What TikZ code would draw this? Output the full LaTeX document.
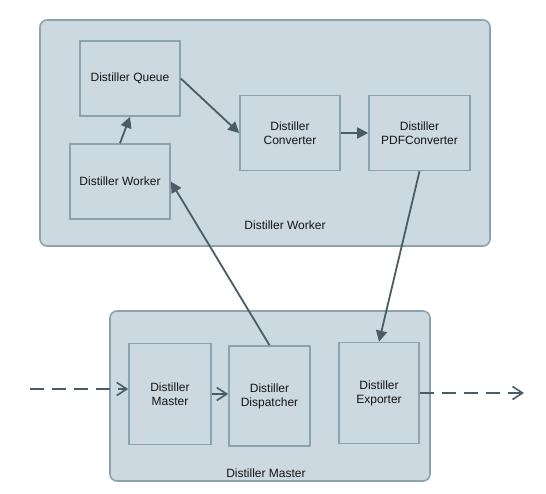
\documentclass[tikz,border=0pt]{standalone}
\usepackage{fontspec}
\setmainfont{Liberation Sans}
\usetikzlibrary{arrows.meta}
\definecolor{boxfill}{HTML}{CDD9E0}
\definecolor{boxline}{HTML}{8CA3AF}
\definecolor{arrowcol}{HTML}{4A5C65}
\tikzset{
  comp/.style={draw=boxline,fill=boxfill,line width=1.6pt,align=center,
    minimum width=100pt,minimum height=75pt,inner sep=0pt,
    font=\fontsize{12}{14}\selectfont,text=black!92},
  group/.style={draw=boxline,fill=boxfill,line width=1.6pt,rounded corners=7pt},
  grouplabel/.style={font=\fontsize{12}{14}\selectfont,text=black!92,inner sep=0pt},
  flow/.style={draw=arrowcol,line width=1.8pt,-{Triangle[length=11pt,width=11pt]}},
  msg/.style={draw=arrowcol,line width=1.8pt,-{Straight Barb[length=10pt,width=13pt,line width=1.6pt]}},
  ext/.style={msg,dash pattern=on 14pt off 8pt}
}
\begin{document}
\begin{tikzpicture}[x=1pt,y=-1pt]
        \useasboundingbox (0,0) rectangle (546,494);
        % worker side
        \draw[group] (40,20) rectangle (490,246);
        \node[grouplabel] (wlabel) at (285,225) {Distiller Worker};
        \node[comp] (queue) at (130,78.5) {Distiller Queue};
        \node[comp] (worker) at (120,181.5) {Distiller Worker};
        \node[comp] (conv) at (290,133) {Distiller\\Converter};
        \node[comp,minimum width=101pt] (pdf) at (419.5,133) {Distiller\\PDFConverter};

        % master side
        \draw[group] (110,311) rectangle (430,481);
        \node[grouplabel] (mlabel) at (266,473) {Distiller Master};
        \node[comp,minimum width=82pt,minimum height=101pt] (master) at (170,394) {Distiller\\Master};
        \node[comp,minimum width=81pt,minimum height=100pt] (disp) at (269.5,396) {Distiller\\Dispatcher};
        \node[comp,minimum width=80pt,minimum height=101pt] (exp) at (379,393) {Distiller\\Exporter};
        \coordinate (in) at (30,389);
        \coordinate (out) at (524,393);

        \draw[flow] (worker.north) -- (queue.south);
        \draw[flow] (queue.east) -- (conv.west);
        \draw[flow] (conv.east) -- (pdf.west);
        \draw[flow] (disp.north) -- (worker.east);
        \draw[flow] (pdf.south) -- (exp.north);
        \draw[msg] (master.east) -- (disp.west |- master.east);
        \draw[ext] (in) -- (in -| master.west);
        \draw[ext] (exp.east) -- (out);

    \end{tikzpicture}
\end{document}
